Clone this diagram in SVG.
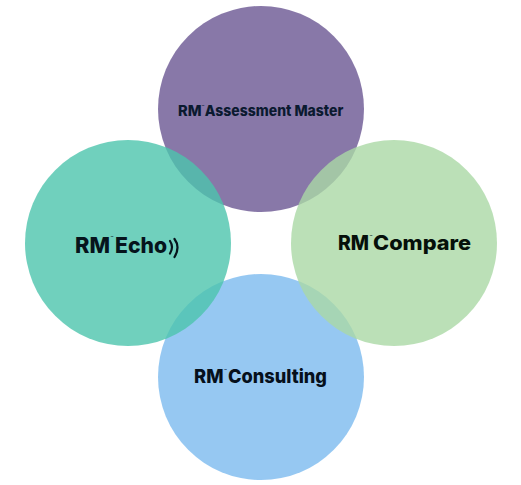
<svg xmlns="http://www.w3.org/2000/svg" width="521" height="485" viewBox="0 0 521 485">
<style>
.c{fill-opacity:.8}
.t{font-family:"Inter","Liberation Sans",sans-serif;font-weight:800}
.tm{font-family:"Liberation Sans",sans-serif;font-size:3px;font-weight:700}
.w{fill:none;stroke:#06141c;stroke-width:2.200;stroke-linecap:round}
</style>
<rect width="521" height="485" fill="#fff"/>
<g id="node-assessment"><circle class="c" cx="261" cy="109" r="103" fill="#6a5692"/>
<text class="t" x="178" y="116" font-size="15" fill="#0b1a30" textLength="23.500" lengthAdjust="spacingAndGlyphs">RM</text>
<text class="tm" x="201.500" y="107" fill="#0b1a30">™</text>
<text class="t" x="204.800" y="116" font-size="15" fill="#0b1a30" textLength="138.500" lengthAdjust="spacingAndGlyphs">Assessment Master</text></g>
<g id="node-consulting"><circle class="c" cx="261" cy="377" r="103" fill="#7cbaef"/>
<text class="t" x="194" y="383" font-size="19" fill="#06101c" textLength="29.500" lengthAdjust="spacingAndGlyphs">RM</text>
<text class="tm" x="224" y="371" fill="#06101c">™</text>
<text class="t" x="228" y="383" font-size="19" fill="#06101c" textLength="99" lengthAdjust="spacingAndGlyphs">Consulting</text></g>
<g id="node-compare"><circle class="c" cx="394" cy="243" r="103" fill="#aad8a5"/>
<text class="t" x="338" y="250" font-size="20" fill="#06100a" textLength="31" lengthAdjust="spacingAndGlyphs">RM</text>
<text class="tm" x="369.400" y="237" fill="#06100a">™</text>
<text class="t" x="373" y="250" font-size="20" fill="#06100a" textLength="98" lengthAdjust="spacingAndGlyphs">Compare</text></g>
<g id="node-echo"><circle class="c" cx="128" cy="243" r="103" fill="#4cc4ac"/>
<text class="t" x="75" y="253" font-size="22" fill="#06141c" textLength="35" lengthAdjust="spacingAndGlyphs">RM</text>
<text class="tm" x="110.500" y="238" fill="#06141c">™</text>
<text class="t" x="115" y="253" font-size="22" fill="#06141c" textLength="52" lengthAdjust="spacingAndGlyphs">Echo</text>
<path class="w" d="M170 241Q174 247 170 253.500M174.500 239Q180.500 247 174.500 257"/></g>
<g id="connectors"/>
</svg>
